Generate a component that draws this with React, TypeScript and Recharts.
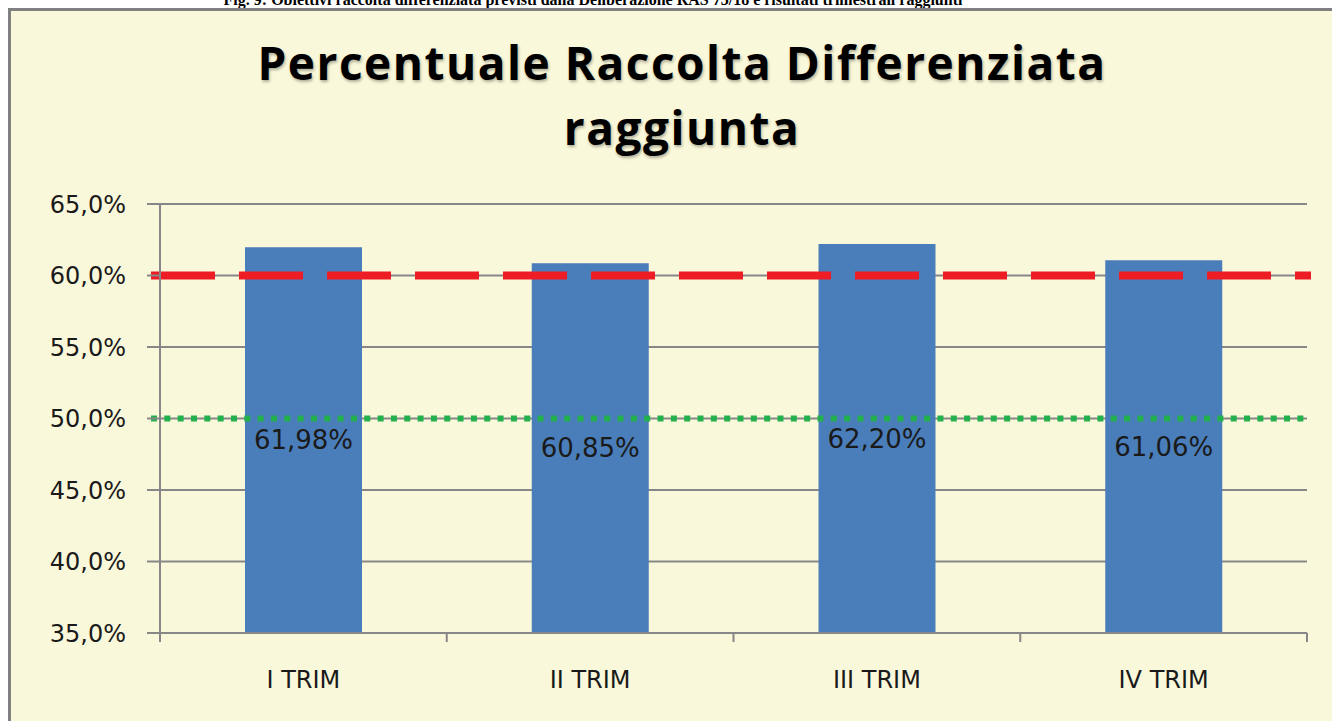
import { BarChart, Bar, XAxis, YAxis, CartesianGrid, ReferenceLine, LabelList } from 'recharts';

const trimestri = ['I TRIM', 'II TRIM', 'III TRIM', 'IV TRIM'];
const percentuali = [61.98, 60.85, 62.2, 61.06];
const yTicks = [35, 40, 45, 50, 55, 60, 65];
const obiettivoRas = 60;
const obiettivoMinimo = 50;

const data = trimestri.map((name, i) => ({ name, value: percentuali[i] }));

const gray = '#878787';
const tickFont = '"DejaVu Sans", sans-serif';

const fmtAxis = (v: number) => v.toFixed(1).replace('.', ',') + '%';
const fmtLabel = (v: number) => v.toFixed(2).replace('.', ',') + '%';

const CategoryTick = (props: any) => {
  const { x, y, payload, index, visibleTicksCount } = props;
  const half = payload.offset || 143;
  return (
    <g>
      <line x1={x - half} x2={x - half} y1={y} y2={y + 9} stroke={gray} strokeWidth={2} />
      {index === visibleTicksCount - 1 && (
        <line x1={x + half} x2={x + half} y1={y} y2={y + 9} stroke={gray} strokeWidth={2} />
      )}
      <text x={x} y={y + 55} textAnchor="middle" fontFamily={tickFont} fontSize={24} fill="#1a1a1a">
        {payload.value}
      </text>
    </g>
  );
};

// linee obiettivo: in Excel sporgono un po' oltre l'area del grafico
const extendedLine = (color: string, width: number, dash: string, left: number, right: number) => (p: any) => (
  <line
    x1={p.x1 - left}
    x2={p.x2 + right}
    y1={p.y1}
    y2={p.y2}
    stroke={color}
    strokeWidth={width}
    strokeDasharray={dash}
  />
);

const App = () => {
  return (
    <div style={{ position: 'absolute', left: 0, top: 0, width: 1332, height: 721, overflow: 'hidden', background: '#fff' }}>
      <div
        style={{
          position: 'absolute',
          top: -8,
          left: 0,
          width: 1186,
          textAlign: 'center',
          fontFamily: '"Liberation Serif", serif',
          fontWeight: 'bold',
          fontSize: 16,
          lineHeight: '16px',
          whiteSpace: 'nowrap',
        }}
      >
        Fig. 9: Obiettivi raccolta differenziata previsti dalla Deliberazione RAS 73/18 e risultati trimestrali raggiunti
      </div>
      <div
        style={{
          position: 'absolute',
          left: 8,
          top: 8,
          width: 1340,
          height: 730,
          border: '3px solid #808080',
          background: '#FAF8DA',
        }}
      />
      <div
        style={{
          position: 'absolute',
          left: 0,
          top: 30,
          width: 1364,
          textAlign: 'center',
          fontFamily: '"Open Sans", sans-serif',
          fontWeight: 'bold',
          fontSize: 46,
          letterSpacing: 1.5,
          lineHeight: '65px',
          color: '#000',
          textShadow: '1px 2px 3px rgba(0,0,0,0.3)',
        }}
      >
        Percentuale Raccolta Differenziata
        <br />
        raggiunta
      </div>
      <div style={{ position: 'absolute', left: 0, top: 0 }}>
        <BarChart width={1332} height={721} data={data} margin={{ top: 204, right: 25, left: 0, bottom: 28 }}>
          <CartesianGrid vertical={false} stroke={gray} strokeWidth={2} />
          <XAxis
            dataKey="name"
            height={60}
            tickLine={false}
            tickSize={0}
            tickMargin={0}
            axisLine={{ stroke: gray, strokeWidth: 2 }}
            tick={<CategoryTick />}
            interval={0}
          />
          <YAxis
            width={160}
            domain={[35, 65]}
            ticks={yTicks}
            tickFormatter={fmtAxis}
            tickSize={13}
            tickMargin={21}
            axisLine={{ stroke: gray, strokeWidth: 2 }}
            tickLine={{ stroke: gray, strokeWidth: 2 }}
            tick={{ fontFamily: tickFont, fontSize: 24, fill: '#1a1a1a' }}
          />
          <Bar dataKey="value" fill="#4A7EBB" barSize={117} isAnimationActive={false}>
            <LabelList
              dataKey="value"
              position="center"
              formatter={fmtLabel}
              fontFamily={tickFont}
              fontSize={26}
              fill="#1a1a1a"
            />
          </Bar>
          <ReferenceLine y={obiettivoMinimo} shape={extendedLine('#22B14C', 6, '6 7.33', 9, -2)} />
          <ReferenceLine y={obiettivoRas} shape={extendedLine('#EE1C25', 8, '64 24', 9, 4)} />
        </BarChart>
      </div>
    </div>
  );
};

export default App;
